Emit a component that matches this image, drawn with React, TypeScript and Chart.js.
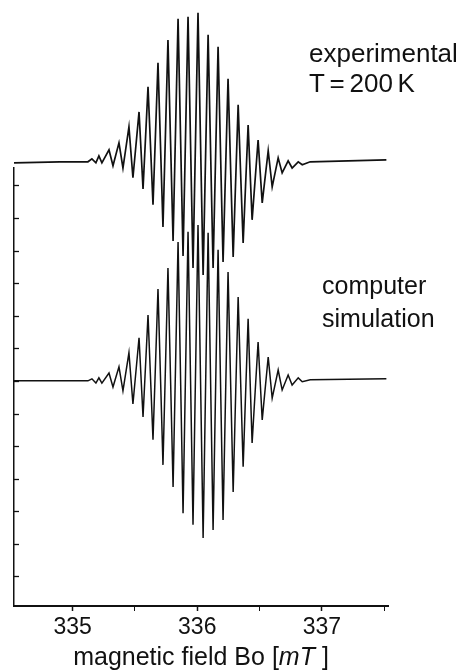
import React, { useEffect, useRef } from "react";
import { Chart, registerables } from "chart.js";

Chart.register(...registerables);

// ---- data ----
// magnetic field (mT) and intensity (arb. units) of the experimental trace
const fieldExp = [
  334.53, 334.898, 335.123, 335.155, 335.187, 335.211, 335.235, 335.292, 335.324, 335.372,
  335.404, 335.452, 335.484, 335.533, 335.565, 335.605, 335.645, 335.685, 335.725, 335.765,
  335.806, 335.846, 335.886, 335.926, 335.966, 336.006, 336.047, 336.087, 336.127, 336.167,
  336.207, 336.247, 336.288, 336.328, 336.368, 336.408, 336.44, 336.488, 336.521, 336.569,
  336.601, 336.649, 336.681, 336.729, 336.761, 336.81, 336.842, 336.906, 337.517,
];
const intensityExp = [
  12.71, 12.74, 12.74, 12.83, 12.71, 12.92, 12.71, 13.11, 12.62, 13.32,
  12.55, 13.81, 12.25, 14.27, 11.91, 15.04, 11.42, 15.78, 10.74, 16.48,
  10.31, 17.13, 9.85, 17.19, 9.48, 17.31, 9.27, 16.64, 9.48, 16.27,
  9.67, 15.29, 9.82, 14.49, 10.25, 13.87, 10.96, 13.41, 11.48, 13.08,
  11.97, 12.86, 12.4, 12.77, 12.55, 12.74, 12.65, 12.74, 12.8,
];

// magnetic field (mT) and intensity (arb. units) of the computer simulation
const fieldSim = [
  334.53, 335.123, 335.155, 335.187, 335.211, 335.235, 335.292, 335.324, 335.372, 335.404,
  335.452, 335.484, 335.533, 335.565, 335.605, 335.645, 335.685, 335.725, 335.765, 335.806,
  335.846, 335.886, 335.926, 335.966, 336.006, 336.047, 336.087, 336.127, 336.167, 336.207,
  336.247, 336.288, 336.328, 336.368, 336.408, 336.44, 336.488, 336.521, 336.569, 336.601,
  336.649, 336.681, 336.729, 336.761, 336.81, 336.842, 336.906, 337.517,
];
const intensitySim = [
  6.02, 6.02, 6.08, 5.95, 6.11, 5.95, 6.26, 5.83, 6.45, 5.71,
  6.88, 5.31, 7.34, 4.91, 8.04, 4.21, 8.84, 3.44, 9.48, 2.76,
  10.28, 1.96, 10.59, 1.6, 10.8, 1.2, 10.56, 1.44, 10.04, 1.75,
  9.36, 2.61, 8.59, 3.38, 7.92, 4.11, 7.21, 4.82, 6.75, 5.49,
  6.35, 5.74, 6.2, 5.89, 6.11, 5.99, 6.05, 6.08,
];

// axis settings
const xMin = 334.53;
const xMax = 337.53;
const xTickValues = [335, 335.5, 336, 336.5, 337, 337.5];
const xTickLabels = ["335", "", "336", "", "337", ""];
const yMin = -0.89;
const yMax = 12.55;
const yTickValues = [0, 1, 2, 3, 4, 5, 6, 7, 8, 9, 10, 11, 12];

// texts
const xTitleParts = [
  { text: "magnetic field Bo [", italic: false },
  { text: "mT", italic: true },
  { text: " ]", italic: false },
];
const labelExp = ["experimental", "T = 200 K"];
const labelSim = ["computer", "simulation"];

const FONT = '"Liberation Sans", Arial, Helvetica, sans-serif';
const INK = "#111";

export default function App() {
  const canvasRef = useRef<HTMLCanvasElement | null>(null);

  useEffect(() => {
    const canvas = canvasRef.current;
    if (!canvas) return;

    const textPlugin = {
      id: "textPlugin",
      afterDraw(chart: any) {
        const ctx = chart.ctx as CanvasRenderingContext2D;
        const area = chart.chartArea;
        ctx.save();
        ctx.fillStyle = INK;
        ctx.textAlign = "left";
        ctx.textBaseline = "alphabetic";
        ctx.font = `26px ${FONT}`;
        ctx.fillText(labelExp[0], 309, 62);
        (ctx as any).wordSpacing = "-2.5px";
        ctx.fillText(labelExp[1], 309, 92);
        (ctx as any).wordSpacing = "0px";
        ctx.font = `25px ${FONT}`;
        ctx.fillText(labelSim[0], 322, 294);
        ctx.fillText(labelSim[1], 322, 327);

        // axis title with italic unit
        const size = 25;
        const widths = xTitleParts.map((p) => {
          ctx.font = `${p.italic ? "italic " : ""}${size}px ${FONT}`;
          return ctx.measureText(p.text).width;
        });
        const total = widths.reduce((a, b) => a + b, 0);
        let x = (area.left + area.right) / 2 - total / 2;
        xTitleParts.forEach((p, i) => {
          ctx.font = `${p.italic ? "italic " : ""}${size}px ${FONT}`;
          ctx.fillText(p.text, x, 665);
          x += widths[i];
        });
        ctx.restore();
      },
    };

    const chart = new Chart(canvas, {
      type: "line",
      data: {
        datasets: [
          {
            label: "experimental",
            data: fieldExp.map((f, i) => ({ x: f, y: intensityExp[i] })),
            borderColor: INK,
            borderWidth: 1.7,
            pointRadius: 0,
            tension: 0,
            clip: false as any,
          },
          {
            label: "computer simulation",
            data: fieldSim.map((f, i) => ({ x: f, y: intensitySim[i] })),
            borderColor: INK,
            borderWidth: 1.5,
            pointRadius: 0,
            tension: 0,
            clip: false as any,
          },
        ],
      },
      options: {
        animation: false,
        responsive: true,
        maintainAspectRatio: false,
        layout: { padding: { top: 168, right: 74, left: 0, bottom: 0 } },
        plugins: {
          legend: { display: false },
          tooltip: { enabled: false },
          title: { display: false },
        },
        scales: {
          x: {
            type: "linear",
            min: xMin,
            max: xMax,
            afterBuildTicks: (scale: any) => {
              scale.ticks = xTickValues.map((v) => ({ value: v }));
            },
            afterFit: (scale: any) => {
              scale.height = 64;
            },
            border: { display: true, color: INK, width: 2 },
            grid: {
              drawOnChartArea: false,
              drawTicks: true,
              tickLength: 5,
              tickColor: INK,
              tickWidth: (c: any) => (c.index % 2 === 0 ? 1.5 : 1),
            },
            ticks: {
              autoSkip: false,
              maxRotation: 0,
              padding: 3,
              color: INK,
              font: { family: FONT, size: 23 },
              callback: (_v: any, i: number) => xTickLabels[i],
            },
          },
          y: {
            type: "linear",
            min: yMin,
            max: yMax,
            afterBuildTicks: (scale: any) => {
              scale.ticks = yTickValues.map((v) => ({ value: v }));
            },
            afterFit: (scale: any) => {
              scale.width = 14;
            },
            border: { display: true, color: INK, width: 1.5 },
            grid: {
              drawOnChartArea: false,
              drawTicks: true,
              tickLength: -5,
              tickColor: INK,
              tickWidth: 1.3,
            },
            ticks: {
              display: false,
            },
          },
        },
      },
      plugins: [textPlugin],
    });

    return () => {
      chart.destroy();
    };
  }, []);

  return (
    <div
      style={{
        position: "absolute",
        left: 0,
        top: 0,
        width: 462,
        height: 670,
        background: "#fff",
      }}
    >
      <canvas ref={canvasRef} />
    </div>
  );
}
